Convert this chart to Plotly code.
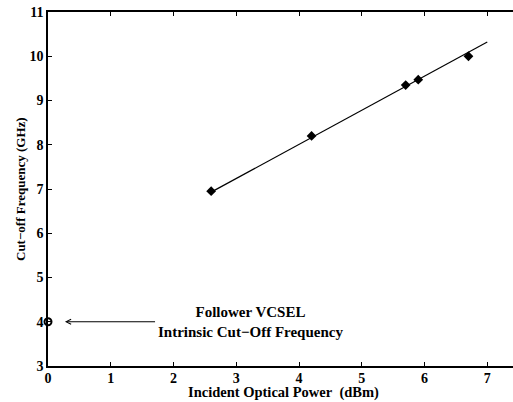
import plotly.graph_objects as go

power = [2.6, 4.2, 5.7, 5.9, 6.7]
cutoff = [6.95, 8.2, 9.35, 9.47, 10.0]
fit_x = [2.6, 7.0]
fit_y = [6.93, 10.32]
intrinsic_x = [0.0]
intrinsic_y = [4.0]
x_ticks = [0, 1, 2, 3, 4, 5, 6, 7]
y_ticks = [3, 4, 5, 6, 7, 8, 9, 10, 11]

FONT = "Liberation Serif"

def bold(size):
    return dict(family=FONT, size=size, color="black", weight="bold")

fig = go.Figure()
fig.add_trace(go.Scatter(x=fit_x, y=fit_y, mode="lines",
                         line=dict(color="black", width=1.2), showlegend=False))
fig.add_trace(go.Scatter(x=power, y=cutoff, mode="markers",
                         marker=dict(symbol="diamond", size=7.5, color="black"),
                         showlegend=False))
fig.add_trace(go.Scatter(x=intrinsic_x, y=intrinsic_y, mode="markers",
                         marker=dict(symbol="circle-open", size=7, color="black",
                                     line=dict(width=2)),
                         cliponaxis=False, showlegend=False))
fig.add_trace(go.Scatter(x=[None], y=[None], xaxis="x2", showlegend=False))

fig.add_annotation(x=0.27, y=4.0, ax=1.73, ay=4.0, xref="x", yref="y",
                   axref="x", ayref="y", text="", showarrow=True,
                   arrowhead=5, arrowsize=1, arrowwidth=1, arrowcolor="black")
fig.add_annotation(x=3.22, y=4.0, xref="x", yref="y", showarrow=False,
                   text="Follower VCSEL<br>Intrinsic Cut\u2212Off Frequency",
                   font=bold(15), align="center",
                   xanchor="center", yanchor="middle")
fig.add_annotation(x=3.75, y=0, xref="x", yref="paper", yshift=-26,
                   showarrow=False, text="Incident Optical Power\u00a0\u00a0(dBm)",
                   font=bold(14.5), xanchor="center", yanchor="middle")
fig.add_annotation(x=0, y=7.0, xref="paper", yref="y", xshift=-28,
                   showarrow=False, text="Cut\u2212off Frequency (GHz)",
                   textangle=-90, font=bold(13),
                   xanchor="center", yanchor="middle")

fig.update_layout(
    width=513, height=402,
    margin=dict(l=48, r=0, t=12, b=36, autoexpand=False),
    paper_bgcolor="white", plot_bgcolor="white",
    font=dict(family=FONT, color="black"),
    xaxis=dict(range=[0, 7.41], tickvals=x_ticks, ticks="inside", ticklen=4,
               tickcolor="black", showline=True, linecolor="black", linewidth=1.5,
               showgrid=False, zeroline=False, tickfont=bold(14), automargin=False,
               ticklabelstandoff=-2),
    xaxis2=dict(range=[0, 7.41], overlaying="x", side="top", matches="x",
                tickvals=x_ticks, ticks="inside", ticklen=4, tickcolor="black",
                showline=True, linecolor="black", linewidth=1.5,
                showticklabels=False, showgrid=False, zeroline=False,
                automargin=False),
    yaxis=dict(range=[3, 11], tickvals=y_ticks, ticks="inside", ticklen=4,
               tickcolor="black", showline=True, linecolor="black", linewidth=1.5,
               showgrid=False, zeroline=False, tickfont=bold(14), automargin=False),
)
fig.write_html("out.html", config={"displayModeBar": False},
               post_script="document.body.style.margin='0px';")
